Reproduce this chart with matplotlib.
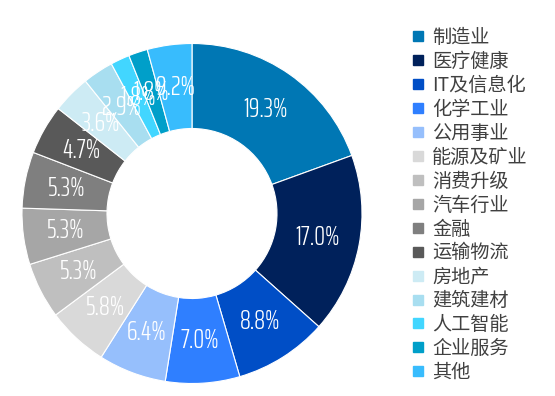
import matplotlib
matplotlib.use("Agg")
import matplotlib.pyplot as plt
import numpy as np
from matplotlib.lines import Line2D

categories = ["制造业", "医疗健康", "IT及信息化", "化学工业", "公用事业", "能源及矿业",
              "消费升级", "汽车行业", "金融", "运输物流", "房地产", "建筑建材",
              "人工智能", "企业服务", "其他"]
values = [19.3, 17.0, 8.8, 7.0, 6.4, 5.8, 5.3, 5.3, 5.3, 4.7, 3.6, 2.9, 1.8, 1.8, 4.2]
pct_labels = ["19.3%", "17.0%", "8.8%", "7.0%", "6.4%", "5.8%", "5.3%", "5.3%", "5.3%",
              "4.7%", "3.6%", "2.9%", "1.8%", "1.8%", "9.2%"]
colors = ["#0077B4", "#00215B", "#004EC6", "#2F7FFF", "#96BFFC", "#D9D9D9",
          "#BFBFBF", "#A6A6A6", "#7F7F7F", "#595959", "#CDEBF4", "#A8DEF0",
          "#42D6FF", "#009FC9", "#38BCFD"]

plt.rcParams['font.family'] = ['Noto Sans CJK SC', 'DejaVu Sans']
num_font = ['Saira ExtraCondensed', 'Antonio', 'DejaVu Sans']

fig = plt.figure(figsize=(5.55, 3.96), dpi=100)
ax = fig.add_axes([22/555, 12.5/396, 340/555, 340/396])
wedges, _ = ax.pie(values, colors=colors, startangle=90, counterclock=False,
                   radius=1.0, wedgeprops=dict(width=0.5, edgecolor="white", linewidth=0.8))
total = sum(values)
cum = 0
for v, lab in zip(values, pct_labels):
    mid = 90 - (cum + v / 2) / total * 360
    cum += v
    r = 0.75
    ax.text(r * np.cos(np.radians(mid)), r * np.sin(np.radians(mid)), lab,
            ha="center", va="center", color="white", fontsize=19.5,
            family=num_font, fontweight=300)
ax.set_xlim(-1, 1)
ax.set_ylim(-1, 1)
ax.set_aspect("equal")
ax.axis("off")

handles = [Line2D([], [], marker="s", linestyle="none", markersize=6.5,
                  markerfacecolor=c, markeredgecolor=c) for c in colors]
leg = fig.legend(handles, categories, loc="upper left",
                 bbox_to_anchor=(410.3/555, 1 - 27/396), frameon=False,
                 fontsize=13.8, labelspacing=0.153, handlelength=0.8,
                 handletextpad=0.33, borderpad=0, borderaxespad=0)
for t in leg.get_texts():
    t.set_color("#404040")

fig.savefig("out.png", dpi=100)
